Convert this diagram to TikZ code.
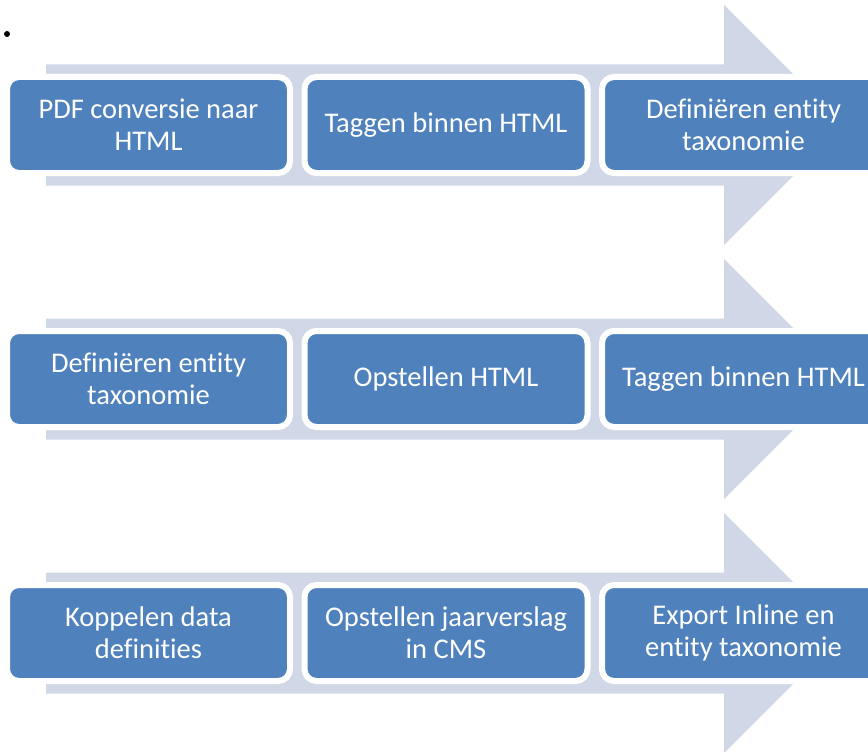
\documentclass[tikz,border=0pt]{standalone}
\usepackage{fontspec}
\setmainfont{Carlito}[Ligatures={NoCommon}]
\definecolor{boxblue}{RGB}{79,129,189}
\definecolor{arrowgray}{RGB}{208,216,232}
\tikzset{
  stepbox/.style={draw=white, line width=6pt, fill=boxblue, rounded corners=12pt,
    minimum width=283pt, minimum height=96pt, inner sep=0pt, text=white,
    align=center, font=\fontsize{28.5}{32}\selectfont},
  bigarrow/.style={fill=arrowgray, draw=none}
}
\begin{document}
\begin{tikzpicture}[x=1pt,y=-1pt]
\useasboundingbox (0,0) rectangle (868,752);
\clip (0,0) rectangle (868,752);
\fill[black] (7,34) circle (3);
\foreach \cy/\r in {125/a,379/b,633/c}{
  \fill[bigarrow] (46,\cy-60.5) -- (724,\cy-60.5) -- (724,\cy-120) -- (844,\cy)
    -- (724,\cy+120) -- (724,\cy+60.5) -- (46,\cy+60.5) -- cycle;
}
\node[stepbox] (a1) at (148.5,125) {PDF conversie naar\\HTML};
\node[stepbox] (a2) at (446,125) {Taggen binnen HTML};
\node[stepbox] (a3) at (743.5,125) {Definiëren entity\\taxonomie};
\node[stepbox] (b1) at (148.5,379) {Definiëren entity\\taxonomie};
\node[stepbox] (b2) at (446,379) {Opstellen HTML};
\node[stepbox] (b3) at (743.5,379) {Taggen binnen HTML};
\node[stepbox] (c1) at (148.5,633) {Koppelen data\\definities};
\node[stepbox] (c2) at (446,633) {Opstellen jaarverslag\\in CMS};
\node[stepbox] (c3) at (743.5,633) {Export Inline en\\entity taxonomie};
\end{tikzpicture}
\end{document}
